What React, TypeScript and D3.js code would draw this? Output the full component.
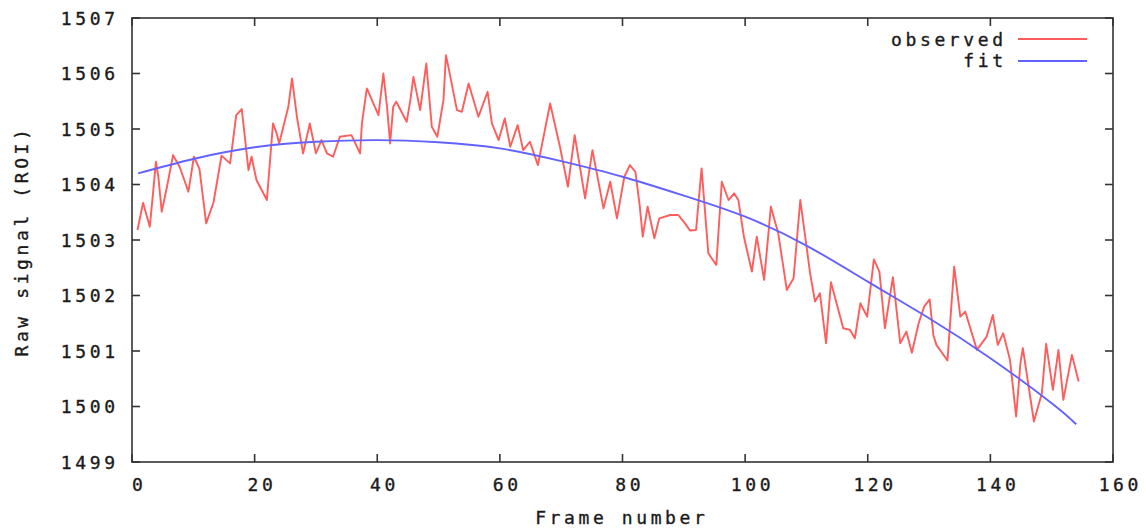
import React from "react";
import * as d3 from "d3";

const obsFrames = [
  0.9, 1.8, 2.6, 2.9, 3.4, 3.9, 4.3, 4.85, 5.6, 6.7, 7.8, 9.2, 10.1, 11.0, 12.1, 13.3, 14.6, 16.0,
  17.0, 17.9, 18.4, 19.0, 19.5, 20.3, 22.0, 23.0, 23.6, 24.0, 25.5, 26.1, 26.9, 27.9, 29.0, 30.0,
  30.9, 31.8, 32.8, 33.9, 35.8, 37.2, 37.5, 38.3, 40.2, 41.0, 41.6, 42.1, 42.6, 43.1, 44.8, 45.4,
  45.9, 47.0, 48.0, 48.9, 49.8, 50.8, 51.2, 51.6, 53.0, 53.8, 54.9, 56.5, 58.0, 58.7, 59.8, 60.8,
  61.7, 62.9, 63.8, 64.9, 66.2, 68.2, 69.8, 71.1, 72.2, 73.9, 75.1, 76.9, 78.0, 79.1, 80.3, 81.2,
  82.1, 82.8, 83.3, 84.1, 85.2, 86.0, 87.8, 89.1, 90.2, 91.0, 92.0, 92.9, 94.0, 95.3, 96.2, 97.3,
  98.2, 98.9, 99.8, 101.1, 101.9, 103.1, 104.2, 105.4, 106.8, 107.9, 109.0, 110.6, 111.4, 112.2,
  113.2, 114.0, 116.0, 117.1, 117.9, 118.8, 119.9, 121.0, 121.9, 122.8, 124.1, 125.3, 126.3, 127.2,
  128.3, 129.2, 130.1, 130.7, 131.2, 133.0, 134.1, 135.1, 135.9, 137.8, 139.4, 140.4, 141.2, 142.1,
  143.2, 144.2, 144.9, 145.3, 147.1, 148.4, 149.1, 150.2, 151.1, 151.9, 153.3, 154.4,
];
const obsValues = [
  1503.18, 1503.67, 1503.36, 1503.24, 1503.81, 1504.41, 1504.14, 1503.51, 1503.9, 1504.53, 1504.31,
  1503.87, 1504.5, 1504.28, 1503.3, 1503.68, 1504.52, 1504.38, 1505.25, 1505.36, 1504.86, 1504.26,
  1504.5, 1504.08, 1503.72, 1505.1, 1504.92, 1504.74, 1505.4, 1505.91, 1505.22, 1504.56, 1505.1,
  1504.56, 1504.8, 1504.56, 1504.5, 1504.86, 1504.89, 1504.56, 1505.1, 1505.73, 1505.25, 1506.0,
  1505.4, 1504.74, 1505.4, 1505.49, 1505.13, 1505.52, 1505.94, 1505.34, 1506.18, 1505.04, 1504.86,
  1505.52, 1506.33, 1506.12, 1505.34, 1505.31, 1505.82, 1505.22, 1505.67, 1505.1, 1504.8, 1505.19,
  1504.68, 1505.07, 1504.62, 1504.77, 1504.35, 1505.46, 1504.68, 1503.96, 1504.89, 1503.75, 1504.62,
  1503.57, 1504.05, 1503.39, 1504.14, 1504.35, 1504.23, 1503.63, 1503.06, 1503.6, 1503.03, 1503.39,
  1503.45, 1503.45, 1503.3, 1503.17, 1503.18, 1504.29, 1502.76, 1502.55, 1504.05, 1503.72, 1503.84,
  1503.72, 1503.06, 1502.43, 1503.06, 1502.28, 1503.6, 1503.12, 1502.1, 1502.31, 1503.72, 1502.4,
  1501.89, 1502.04, 1501.14, 1502.24, 1501.41, 1501.38, 1501.23, 1501.86, 1501.62, 1502.65, 1502.43,
  1501.41, 1502.33, 1501.14, 1501.35, 1500.97, 1501.5, 1501.8, 1501.93, 1501.29, 1501.11, 1500.83,
  1502.52, 1501.62, 1501.71, 1501.02, 1501.26, 1501.65, 1501.11, 1501.32, 1500.84, 1499.82, 1500.78,
  1501.05, 1499.73, 1500.24, 1501.13, 1500.3, 1501.02, 1500.12, 1500.93, 1500.45,
];

// Fit curve
const fitFrames = [1, 10, 20, 30, 40, 50, 60, 70, 80, 90, 100, 110, 120, 130, 140, 150, 154];
const fitValues = [
  1504.2, 1504.46, 1504.67, 1504.77, 1504.8, 1504.76, 1504.65, 1504.42, 1504.14, 1503.8, 1503.42,
  1502.9, 1502.25, 1501.59, 1500.87, 1500.06, 1499.68,
];

const xTicks = [0, 20, 40, 60, 80, 100, 120, 140, 160];
const yTicks = [1499, 1500, 1501, 1502, 1503, 1504, 1505, 1506, 1507];

const FONT = "'DejaVu Sans Mono', 'Liberation Mono', monospace";
const LS = 3.6;

export default function App() {
  const W = 1146;
  const H = 531;
  const L = 132, R = 1113, T = 18, B = 462;
  const x = d3.scaleLinear().domain([0, 160]).range([L, R]);
  const y = d3.scaleLinear().domain([1499, 1507]).range([B, T]);

  const obsLine = d3
    .line<number>()
    .x((_, i) => x(obsFrames[i]))
    .y((d) => y(d));
  const fitLine = d3
    .line<number>()
    .x((_, i) => x(fitFrames[i]))
    .y((d) => y(d))
    .curve(d3.curveNatural);

  const axisColor = "#333";
  const textColor = "#1a1a1a";
  const tickLen = 8;
  const red = "#ff5c5c";
  const blue = "#6262ff";
  const textProps = {
    fontFamily: FONT,
    fontSize: 18,
    letterSpacing: LS,
    fill: textColor,
    stroke: textColor,
    strokeWidth: 0.35,
  };

  return (
    <svg
      width={W}
      height={H}
      viewBox={`0 0 ${W} ${H}`}
      style={{ position: "absolute", left: 0, top: 0, background: "#fff" }}
    >
      <rect x={0} y={0} width={W} height={H} fill="#fff" />
      {/* ticks */}
      {yTicks.map((t) => (
        <g key={"y" + t}>
          <line x1={L} x2={L + tickLen} y1={y(t)} y2={y(t)} stroke={axisColor} strokeWidth={1.6} />
          <line x1={R} x2={R - tickLen} y1={y(t)} y2={y(t)} stroke={axisColor} strokeWidth={1.6} />
          <text x={115 + LS} y={y(t) + 6.5} textAnchor="end" {...textProps}>
            {t}
          </text>
        </g>
      ))}
      {xTicks.map((t) => (
        <g key={"x" + t}>
          <line x1={x(t)} x2={x(t)} y1={B} y2={B - tickLen} stroke={axisColor} strokeWidth={1.6} />
          <line x1={x(t)} x2={x(t)} y1={T} y2={T + tickLen} stroke={axisColor} strokeWidth={1.6} />
          <text x={x(t) + 5.5 + LS / 2} y={491} textAnchor="middle" {...textProps}>
            {t}
          </text>
        </g>
      ))}
      {/* border */}
      <rect x={L} y={T} width={R - L} height={B - T} fill="none" stroke={axisColor} strokeWidth={1.6} />

      {/* series */}
      <path d={obsLine(obsValues) || ""} fill="none" stroke={red} strokeWidth={1.9} strokeLinejoin="round" />
      <path d={fitLine(fitValues) || ""} fill="none" stroke={blue} strokeWidth={1.9} />

      {/* legend */}
      <text x={1003 + LS} y={46} textAnchor="end" {...textProps}>
        observed
      </text>
      <line x1={1018} x2={1087} y1={39} y2={39} stroke={red} strokeWidth={1.9} />
      <text x={1003 + LS} y={67} textAnchor="end" {...textProps}>
        fit
      </text>
      <line x1={1018} x2={1087} y1={61} y2={61} stroke={blue} strokeWidth={1.9} />

      {/* axis titles */}
      <text x={620 + LS / 2} y={524} textAnchor="middle" {...textProps}>
        Frame number
      </text>
      <text transform={`translate(28, ${241}) rotate(-90)`} textAnchor="middle" {...textProps}>
        Raw signal (ROI)
      </text>
    </svg>
  );
}
